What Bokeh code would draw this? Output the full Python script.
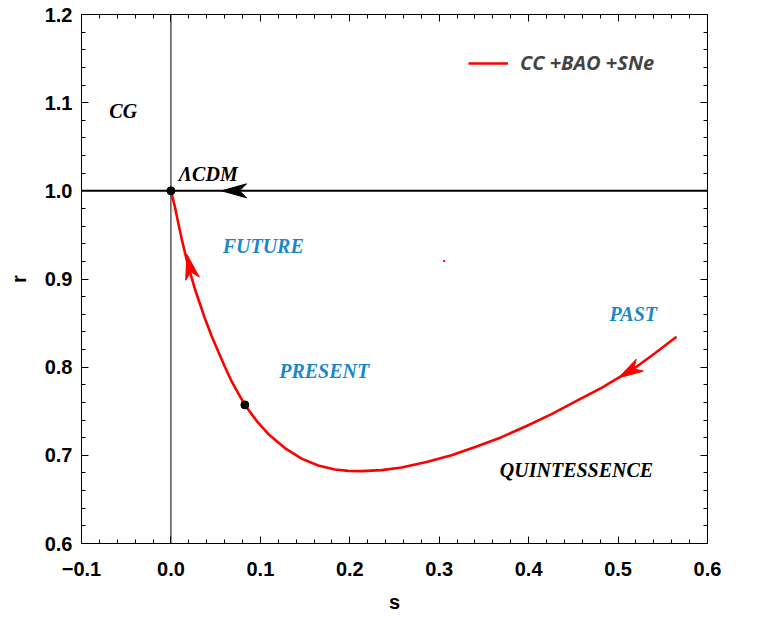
import math
from bokeh.plotting import figure
from bokeh.models import (Range1d, FixedTicker, LinearAxis, Legend, LegendItem, ColumnDataSource)
from bokeh.core.properties import value
from bokeh.embed import file_html
from bokeh.resources import INLINE

# ---------------- data ----------------
s_curve = [0.0, 0.0044, 0.0082, 0.0126, 0.0175, 0.0220, 0.0268, 0.0324, 0.0380, 0.0454,
           0.0529, 0.0603, 0.0678, 0.0753, 0.0827, 0.0958, 0.1088, 0.1274, 0.1461, 0.1647,
           0.1833, 0.1983, 0.2132, 0.2355, 0.2579, 0.2858, 0.3138, 0.3418, 0.3697, 0.3977,
           0.4256, 0.4536, 0.4815, 0.5002, 0.5188, 0.5412, 0.5654]
r_curve = [1.0, 0.9821, 0.9635, 0.9429, 0.9223, 0.9055, 0.8887, 0.8719, 0.8551, 0.8357,
           0.8177, 0.8005, 0.7841, 0.7703, 0.7572, 0.7392, 0.7243, 0.7082, 0.6963, 0.6884,
           0.6839, 0.6824, 0.6821, 0.6832, 0.6862, 0.6925, 0.7000, 0.7101, 0.7206, 0.7333,
           0.7467, 0.7617, 0.7766, 0.7878, 0.7990, 0.8158, 0.8345]

lcdm_line_s = [-0.1, 0.6]
lcdm_line_r = [1.0, 1.0]
axis0_s = [0.0, 0.0]
axis0_r = [0.6, 1.2]

dot_s = [0.0, 0.0827]
dot_r = [1.0, 0.7572]

stray_s = [0.3056]
stray_r = [0.9205]

# arrows: tip and a point behind it (direction), colour
arrow_tip_s = [0.0566, 0.0178, 0.5002]
arrow_tip_r = [1.0, 0.928, 0.7878]
arrow_from_s = [0.0800, 0.0268, 0.5188]
arrow_from_r = [1.0, 0.8887, 0.7990]
arrow_color = ["black", "red", "red"]

label_text = ["CG", "ΛCDM", "FUTURE", "PRESENT", "PAST", "QUINTESSENCE"]
label_s = [-0.0533, 0.0417, 0.1032, 0.1714, 0.5170, 0.4535]
label_r = [1.0901, 1.0195, 0.9377, 0.7953, 0.8607, 0.6832]
label_color = ["black", "black", "#1a88c8", "#1a88c8", "#1a88c8", "black"]

x_ticks = [-0.1, 0.0, 0.1, 0.2, 0.3, 0.4, 0.5, 0.6]
x_tick_labels = ["\u22120.1", "0.0", "0.1", "0.2", "0.3", "0.4", "0.5", "0.6"]
y_ticks = [0.6, 0.7, 0.8, 0.9, 1.0, 1.1, 1.2]
y_tick_labels = ["0.6", "0.7", "0.8", "0.9", "1.0", "1.1", "1.2"]

legend_label = "CC +BAO +SNe"

# ---------------- figure ----------------
FW, FH = 626, 529
XR = (-0.1, 0.6)
YR = (0.6, 1.2)

p = figure(frame_width=FW, frame_height=FH, x_range=Range1d(*XR), y_range=Range1d(*YR),
           output_backend="svg", toolbar_location=None,
           min_border_left=81, min_border_right=34, min_border_top=14, min_border_bottom=0)
p.grid.visible = False
p.outline_line_color = "black"
p.outline_line_width = 1
p.background_fill_color = "white"
p.border_fill_color = "white"

x_minor = [round(-0.1 + 0.02 * i, 2) for i in range(36) if i % 5 != 0]
y_minor = [round(0.6 + 0.02 * i, 2) for i in range(31) if i % 5 != 0]


def style_axis(ax, labels=True):
    ax.major_tick_in = 7
    ax.major_tick_out = 0
    ax.minor_tick_in = 4
    ax.minor_tick_out = 0
    ax.axis_line_color = "black"
    ax.major_tick_line_color = "black"
    ax.minor_tick_line_color = "black"
    ax.major_label_text_font = "Liberation Sans"
    ax.major_label_text_font_style = "bold"
    ax.major_label_text_color = "black"
    if labels:
        ax.major_label_text_font_size = "20px"
    else:
        ax.major_label_text_font_size = "0px"
        ax.major_label_standoff = 0


xt = FixedTicker(ticks=x_ticks, minor_ticks=x_minor)
yt = FixedTicker(ticks=y_ticks, minor_ticks=y_minor)

p.xaxis.ticker = xt
p.yaxis.ticker = yt
p.xaxis.major_label_overrides = dict(zip(x_ticks, x_tick_labels))
p.yaxis.major_label_overrides = dict(zip(y_ticks, y_tick_labels))
for ax in p.xaxis + p.yaxis:
    style_axis(ax)
p.xaxis.major_label_standoff = 18
p.yaxis.major_label_standoff = 9
p.xaxis.axis_label = "s"
p.yaxis.axis_label = "r"
for ax in p.xaxis + p.yaxis:
    ax.axis_label_text_font = "Liberation Sans"
    ax.axis_label_text_font_style = "bold"
    ax.axis_label_text_font_size = "20px"
    ax.axis_label_text_color = "black"
p.xaxis.axis_label_standoff = 12
p.yaxis.axis_label_standoff = 12

top_ax = LinearAxis(ticker=FixedTicker(ticks=x_ticks, minor_ticks=x_minor))
style_axis(top_ax, labels=False)
top_ax.major_label_overrides = {t: "" for t in x_ticks}
p.add_layout(top_ax, "above")
right_ax = LinearAxis(ticker=FixedTicker(ticks=y_ticks, minor_ticks=y_minor))
style_axis(right_ax, labels=False)
right_ax.major_label_overrides = {t: "" for t in y_ticks}
p.add_layout(right_ax, "right")

# ---------------- marks ----------------
p.line(axis0_s, axis0_r, line_color="black", line_width=1)
p.line(lcdm_line_s, lcdm_line_r, line_color="black", line_width=2)
curve = p.line(s_curve, r_curve, line_color="red", line_width=2.6)
p.scatter(stray_s, stray_r, marker="square", size=2, fill_color="red", line_color=None)

# arrowheads built in screen-pixel geometry
px_per_s = FW / (XR[1] - XR[0])
px_per_r = FH / (YR[1] - YR[0])
L, HW, NOTCH = 25.0, 7.0, 18.0
xs_all, ys_all = [], []
for ts, tr, fs, fr in zip(arrow_tip_s, arrow_tip_r, arrow_from_s, arrow_from_r):
    dx = (ts - fs) * px_per_s
    dy = (tr - fr) * px_per_r
    n = math.hypot(dx, dy)
    ux, uy = dx / n, dy / n
    vx, vy = -uy, ux
    pts = [(0, 0), (-L * ux + HW * vx, -L * uy + HW * vy), (-NOTCH * ux, -NOTCH * uy),
           (-L * ux - HW * vx, -L * uy - HW * vy)]
    xs_all.append([ts + a / px_per_s for a, b in pts])
    ys_all.append([tr + b / px_per_r for a, b in pts])
p.patches(xs_all, ys_all, fill_color=arrow_color, line_color=arrow_color, line_width=1)

p.scatter(dot_s, dot_r, size=8, fill_color="black", line_color="black")

src = ColumnDataSource(dict(x=label_s, y=label_r, t=label_text, c=label_color))
p.text(x="x", y="y", text="t", text_color="c", source=src,
       text_font=value("Liberation Serif"), text_font_style="bold italic",
       text_font_size="20px", text_align="center", text_baseline="middle")

legend = Legend(items=[LegendItem(label=legend_label, renderers=[curve])],
                location=(387, 467), border_line_color=None, background_fill_alpha=0,
                label_text_font="Open Sans", label_text_font_style="bold italic",
                label_text_font_size="20px", glyph_width=40, glyph_height=20,
                padding=0, margin=0, label_standoff=12, spacing=0)
p.add_layout(legend)

open("out.html", "w").write(file_html(p, INLINE))
